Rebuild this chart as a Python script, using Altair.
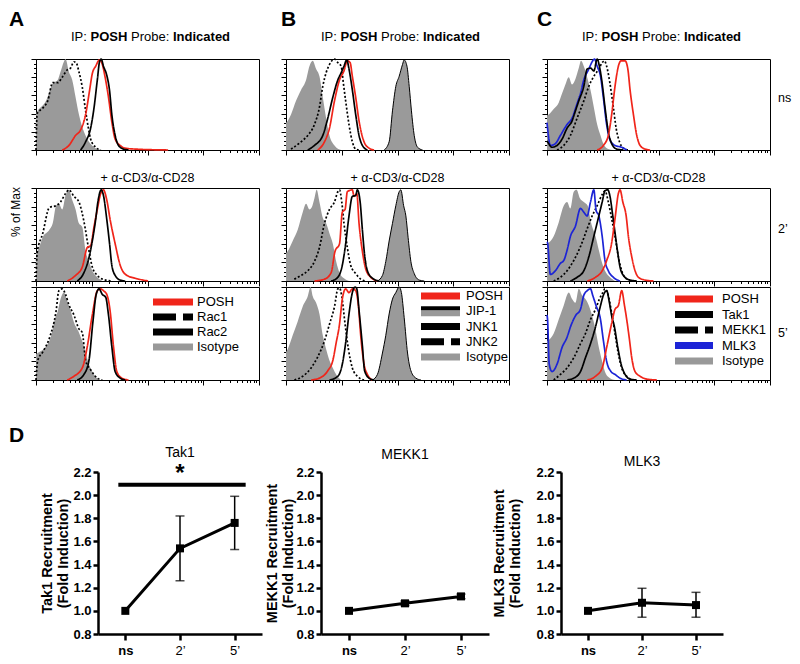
import math
import altair as alt
import pandas as pd

FONT = "Liberation Sans"
RED = "#f0251a"
BLUE = "#1c24d6"
GRAY = "#9a9a9a"
SWATCH_GRAY = "#999999"
DOTTED = [2, 2]
SOLID = [1, 0]
SWATCH_DASH = [23, 7]

# ---------------- histogram data: (log10 decade, % of max) ----------------
# Panel A (Rac1 / Rac2)
A_NS_ISOTYPE = [(0.0, 40), (0.03, 43), (0.18, 54), (0.30, 73), (0.39, 77), (0.44, 86), (0.50, 97), (0.53, 100), (0.59, 86), (0.65, 77), (0.71, 58), (0.77, 39), (0.86, 20), (0.95, 9), (1.07, 2), (1.19, 0)]
A_NS_RAC1 = [(0.0, 0), (0.02, 40), (0.12, 46), (0.21, 54), (0.30, 74), (0.39, 74), (0.47, 80), (0.56, 88), (0.62, 90), (0.68, 97), (0.72, 96), (0.77, 86), (0.83, 69), (0.89, 43), (0.94, 24), (0.98, 12), (1.07, 3), (1.16, 0)]
A_NS_POSH = [(0.47, 0), (0.59, 5), (0.71, 16), (0.80, 22), (0.89, 39), (0.96, 65), (1.01, 84), (1.07, 92), (1.14, 99), (1.19, 94), (1.24, 80), (1.30, 58), (1.36, 31), (1.42, 12), (1.51, 5), (1.60, 2), (1.78, 1), (2.37, 0)]
A_NS_RAC2 = [(0.80, 0), (0.89, 9), (0.98, 24), (1.04, 46), (1.10, 77), (1.14, 97), (1.17, 100), (1.21, 92), (1.27, 82), (1.32, 65), (1.36, 39), (1.42, 16), (1.48, 5), (1.57, 1), (1.66, 0)]

A_2_ISOTYPE = [(0.0, 30), (0.03, 32), (0.12, 47), (0.24, 55), (0.30, 62), (0.36, 81), (0.41, 83), (0.47, 77), (0.53, 92), (0.59, 98), (0.65, 87), (0.71, 77), (0.77, 62), (0.83, 58), (0.89, 32), (0.95, 21), (1.01, 11), (1.10, 4), (1.19, 0)]
A_2_RAC1 = [(0.0, 0), (0.02, 30), (0.12, 51), (0.24, 79), (0.36, 81), (0.44, 85), (0.53, 94), (0.59, 98), (0.68, 91), (0.77, 85), (0.86, 64), (0.94, 36), (1.01, 15), (1.10, 6), (1.19, 2), (1.36, 0)]
A_2_POSH = [(0.56, 0), (0.71, 6), (0.83, 15), (0.92, 36), (0.98, 38), (1.04, 58), (1.10, 77), (1.16, 94), (1.21, 98), (1.27, 87), (1.33, 66), (1.42, 40), (1.51, 17), (1.63, 6), (1.78, 3), (2.01, 0)]
A_2_RAC2 = [(0.74, 0), (0.86, 9), (0.95, 25), (1.01, 43), (1.07, 66), (1.11, 85), (1.17, 98), (1.21, 92), (1.27, 66), (1.32, 40), (1.36, 17), (1.42, 6), (1.51, 1), (1.60, 0)]

A_5_ISOTYPE = [(0.0, 28), (0.06, 30), (0.18, 36), (0.27, 47), (0.33, 64), (0.39, 74), (0.44, 87), (0.50, 94), (0.56, 85), (0.62, 75), (0.68, 62), (0.77, 51), (0.86, 36), (0.95, 17), (1.04, 6), (1.13, 0)]
A_5_RAC1 = [(0.0, 0), (0.03, 21), (0.12, 30), (0.24, 45), (0.36, 74), (0.41, 96), (0.47, 98), (0.53, 92), (0.59, 81), (0.68, 70), (0.77, 55), (0.83, 51), (0.89, 21), (0.98, 11), (1.10, 2), (1.19, 0)]
A_5_POSH = [(0.56, 0), (0.68, 4), (0.83, 13), (0.92, 36), (1.01, 70), (1.10, 96), (1.16, 98), (1.21, 96), (1.27, 92), (1.33, 74), (1.39, 36), (1.45, 9), (1.54, 2), (1.66, 0)]
A_5_RAC2 = [(0.74, 0), (0.86, 6), (0.95, 21), (1.02, 62), (1.08, 92), (1.13, 98), (1.19, 92), (1.25, 89), (1.30, 70), (1.36, 36), (1.42, 9), (1.51, 2), (1.60, 0)]

# Panel B (JIP-1 / JNK1 / JNK2)
B_NS_ISOTYPE = [(0.0, 30), (0.03, 32), (0.09, 39), (0.18, 54), (0.27, 66), (0.36, 77), (0.42, 92), (0.48, 98), (0.54, 89), (0.60, 81), (0.66, 58), (0.72, 35), (0.78, 16), (0.87, 5), (0.99, 0)]
B_NS_JIP1 = [(1.76, 0), (1.85, 9), (1.91, 43), (1.97, 70), (2.03, 81), (2.09, 94), (2.12, 99), (2.17, 92), (2.21, 70), (2.25, 43), (2.30, 16), (2.36, 3), (2.45, 0)]
B_NS_JNK2 = [(0.09, 1), (0.27, 9), (0.39, 16), (0.51, 28), (0.60, 47), (0.66, 70), (0.72, 85), (0.78, 94), (0.87, 100), (0.93, 96), (0.99, 92), (1.03, 73), (1.07, 54), (1.13, 28), (1.19, 9), (1.25, 1), (1.31, 0)]
B_NS_POSH = [(0.57, 0), (0.69, 9), (0.78, 24), (0.87, 54), (0.96, 77), (1.04, 87), (1.10, 98), (1.15, 96), (1.19, 81), (1.25, 58), (1.31, 32), (1.40, 9), (1.49, 2), (1.58, 0)]
B_NS_JNK1 = [(0.39, 0), (0.51, 5), (0.66, 16), (0.75, 35), (0.84, 58), (0.93, 77), (0.99, 85), (1.04, 92), (1.09, 99), (1.13, 89), (1.19, 66), (1.25, 39), (1.31, 16), (1.37, 5), (1.46, 0)]

B_2_ISOTYPE = [(0.0, 30), (0.03, 32), (0.12, 43), (0.21, 55), (0.30, 74), (0.36, 83), (0.42, 77), (0.46, 79), (0.51, 89), (0.55, 98), (0.60, 85), (0.66, 68), (0.72, 62), (0.78, 51), (0.84, 40), (0.90, 21), (0.96, 9), (1.04, 3), (1.13, 0)]
B_2_JIP1 = [(1.64, 0), (1.73, 6), (1.79, 21), (1.85, 43), (1.91, 62), (1.97, 81), (2.03, 96), (2.06, 98), (2.11, 81), (2.15, 70), (2.19, 47), (2.24, 21), (2.30, 8), (2.39, 1), (2.48, 0)]
B_2_JNK2 = [(0.15, 2), (0.27, 6), (0.39, 11), (0.51, 21), (0.60, 36), (0.69, 62), (0.78, 77), (0.87, 85), (0.93, 96), (0.96, 98), (1.00, 85), (1.04, 62), (1.10, 36), (1.16, 17), (1.25, 8), (1.34, 2), (1.43, 0)]
B_2_POSH = [(0.51, 0), (0.69, 2), (0.81, 9), (0.88, 32), (0.96, 40), (1.01, 74), (1.06, 77), (1.10, 96), (1.19, 98), (1.22, 91), (1.27, 94), (1.31, 62), (1.37, 32), (1.43, 13), (1.52, 4), (1.64, 0)]
B_2_JNK1 = [(0.81, 0), (0.93, 4), (1.01, 17), (1.07, 40), (1.13, 70), (1.19, 91), (1.25, 92), (1.28, 98), (1.33, 85), (1.37, 55), (1.41, 28), (1.46, 11), (1.55, 3), (1.67, 0)]

B_5_ISOTYPE = [(0.0, 30), (0.03, 33), (0.12, 48), (0.21, 63), (0.30, 79), (0.39, 90), (0.44, 100), (0.48, 90), (0.54, 83), (0.60, 71), (0.66, 48), (0.72, 33), (0.78, 21), (0.84, 13), (0.90, 6), (0.99, 0)]
B_5_JIP1 = [(1.55, 0), (1.64, 6), (1.73, 29), (1.79, 48), (1.85, 71), (1.91, 87), (1.97, 94), (2.03, 100), (2.07, 94), (2.12, 67), (2.18, 29), (2.24, 10), (2.33, 2), (2.42, 0)]
B_5_JNK2 = [(0.15, 0), (0.30, 4), (0.45, 13), (0.57, 25), (0.69, 42), (0.78, 60), (0.87, 79), (0.93, 98), (0.96, 99), (1.00, 90), (1.06, 60), (1.12, 33), (1.19, 13), (1.28, 4), (1.40, 0)]
B_5_POSH = [(0.45, 0), (0.60, 2), (0.75, 10), (0.84, 21), (0.90, 40), (0.96, 60), (1.01, 87), (1.07, 98), (1.13, 94), (1.19, 98), (1.25, 96), (1.30, 79), (1.34, 48), (1.40, 17), (1.46, 6), (1.55, 0)]
B_5_JNK1 = [(0.78, 0), (0.93, 4), (1.01, 17), (1.07, 40), (1.13, 71), (1.19, 94), (1.24, 100), (1.27, 98), (1.31, 75), (1.37, 37), (1.41, 10), (1.49, 2), (1.58, 0)]

# Panel C (Tak1 / MEKK1 / MLK3)
C_NS_ISOTYPE = [(0.0, 38), (0.03, 39), (0.12, 45), (0.21, 52), (0.27, 62), (0.33, 72), (0.39, 80), (0.45, 72), (0.51, 78), (0.57, 90), (0.61, 98), (0.66, 92), (0.72, 80), (0.78, 66), (0.84, 47), (0.90, 28), (0.96, 16), (1.01, 7), (1.10, 1), (1.19, 0)]
C_NS_MEKK1 = [(0.18, 0), (0.30, 5), (0.42, 16), (0.54, 35), (0.66, 54), (0.75, 70), (0.84, 81), (0.93, 89), (0.99, 96), (1.03, 98), (1.07, 92), (1.13, 73), (1.19, 47), (1.24, 24), (1.30, 9), (1.37, 2), (1.46, 0)]
C_NS_MLK3 = [(0.0, 30), (0.01, 24), (0.06, 5), (0.15, 7), (0.24, 16), (0.36, 28), (0.45, 35), (0.54, 51), (0.60, 62), (0.66, 77), (0.75, 89), (0.81, 97), (0.85, 100), (0.90, 92), (0.96, 81), (1.01, 58), (1.07, 28), (1.13, 11), (1.22, 5), (1.34, 3), (1.43, 0)]
C_NS_TAK1 = [(0.0, 10), (0.03, 7), (0.09, 3), (0.18, 5), (0.27, 12), (0.36, 24), (0.45, 32), (0.51, 43), (0.57, 54), (0.66, 70), (0.72, 89), (0.78, 90), (0.84, 87), (0.90, 100), (0.94, 92), (0.99, 73), (1.04, 47), (1.10, 20), (1.16, 7), (1.25, 1), (1.37, 0)]
C_NS_POSH = [(0.90, 0), (1.01, 5), (1.10, 16), (1.16, 39), (1.22, 70), (1.28, 92), (1.33, 98), (1.40, 98), (1.45, 89), (1.49, 66), (1.55, 39), (1.61, 16), (1.67, 5), (1.76, 1), (1.85, 0)]

C_2_ISOTYPE = [(0.0, 40), (0.03, 41), (0.12, 48), (0.21, 63), (0.30, 81), (0.36, 85), (0.42, 78), (0.48, 96), (0.53, 98), (0.59, 89), (0.66, 85), (0.73, 81), (0.79, 63), (0.87, 48), (0.93, 33), (0.99, 19), (1.04, 11), (1.13, 4), (1.22, 0)]
C_2_MEKK1 = [(0.12, 0), (0.24, 4), (0.36, 11), (0.48, 22), (0.60, 37), (0.72, 56), (0.81, 70), (0.90, 81), (0.99, 93), (1.04, 97), (1.10, 85), (1.16, 67), (1.22, 48), (1.28, 26), (1.34, 11), (1.43, 2), (1.52, 0)]
C_2_MLK3 = [(0.0, 42), (0.01, 41), (0.06, 7), (0.15, 11), (0.24, 19), (0.30, 22), (0.36, 33), (0.42, 48), (0.51, 59), (0.60, 78), (0.66, 74), (0.72, 70), (0.78, 85), (0.84, 98), (0.88, 76), (0.93, 70), (0.99, 48), (1.04, 22), (1.10, 11), (1.19, 4), (1.31, 0)]
C_2_TAK1 = [(0.42, 0), (0.54, 4), (0.66, 11), (0.75, 26), (0.84, 48), (0.93, 70), (0.99, 85), (1.04, 97), (1.09, 98), (1.13, 91), (1.18, 70), (1.22, 52), (1.27, 30), (1.31, 15), (1.37, 6), (1.49, 1), (1.61, 0)]
C_2_POSH = [(0.72, 0), (0.87, 4), (0.99, 11), (1.07, 22), (1.16, 41), (1.22, 67), (1.28, 94), (1.31, 98), (1.36, 85), (1.42, 70), (1.46, 48), (1.52, 26), (1.58, 11), (1.64, 4), (1.76, 1), (1.91, 0)]

C_5_ISOTYPE = [(0.0, 42), (0.03, 43), (0.12, 50), (0.21, 65), (0.30, 80), (0.39, 94), (0.45, 87), (0.51, 83), (0.57, 98), (0.63, 91), (0.69, 87), (0.75, 80), (0.81, 69), (0.87, 54), (0.93, 35), (0.99, 20), (1.04, 9), (1.13, 2), (1.22, 0)]
C_5_MEKK1 = [(0.12, 0), (0.24, 6), (0.36, 13), (0.48, 24), (0.60, 39), (0.69, 50), (0.78, 65), (0.87, 76), (0.94, 87), (1.00, 94), (1.04, 98), (1.10, 91), (1.16, 72), (1.22, 50), (1.28, 28), (1.34, 13), (1.43, 4), (1.52, 0)]
C_5_MLK3 = [(0.0, 70), (0.01, 65), (0.04, 17), (0.09, 9), (0.18, 17), (0.27, 35), (0.36, 46), (0.42, 57), (0.51, 69), (0.60, 76), (0.66, 91), (0.72, 96), (0.78, 98), (0.82, 91), (0.88, 80), (0.96, 65), (1.01, 43), (1.07, 20), (1.15, 9), (1.22, 6), (1.31, 2), (1.43, 0)]
C_5_TAK1 = [(0.36, 0), (0.48, 2), (0.60, 9), (0.69, 24), (0.78, 39), (0.87, 57), (0.96, 80), (1.01, 91), (1.07, 96), (1.12, 83), (1.16, 69), (1.21, 57), (1.27, 35), (1.33, 17), (1.40, 6), (1.49, 1), (1.61, 0)]
C_5_POSH = [(0.72, 0), (0.87, 4), (0.99, 13), (1.07, 35), (1.16, 61), (1.22, 76), (1.28, 80), (1.34, 96), (1.39, 80), (1.43, 65), (1.48, 43), (1.52, 24), (1.58, 9), (1.67, 4), (1.79, 1), (1.97, 0)]

# ---------------- panel D data ----------------
TIMEPOINTS = ["ns", "2’", "5’"]
TAK1_MEAN = [1.00, 1.54, 1.76]
TAK1_LO = [1.00, 1.26, 1.53]
TAK1_HI = [1.00, 1.82, 1.99]
MEKK1_MEAN = [1.00, 1.065, 1.125]
MEKK1_LO = [1.00, 1.045, 1.105]
MEKK1_HI = [1.00, 1.085, 1.145]
MLK3_MEAN = [1.00, 1.07, 1.05]
MLK3_LO = [1.00, 0.945, 0.945]
MLK3_HI = [1.00, 1.195, 1.16]
TAK1_SIG_LEVEL = 2.09
D_Y_TICKS = [0.8, 1.0, 1.2, 1.4, 1.6, 1.8, 2.0, 2.2]

# ---------------- layout constants ----------------
PANEL_W = 223
H_TOP, H_MID, H_BOT = 91, 93, 93
X_TICKS = [round(d + math.log10(k), 4) for d in range(4) for k in range(1, 10)] + [4.0]
Y_TICKS = list(range(0, 101, 5))
INDEP = dict(color="independent", strokeDash="independent")

X_AXIS = alt.Axis(values=X_TICKS, labels=False, title=None, grid=False,
                  domainColor="black", tickColor="black", tickWidth=1, domainWidth=1,
                  tickSize={"condition": {"test": "abs(datum.value - round(datum.value)) < 0.001", "value": 5}, "value": 2.5})
Y_AXIS = alt.Axis(values=Y_TICKS, labels=False, title=None, grid=False,
                  domainColor="black", tickColor="black", tickWidth=1, domainWidth=1,
                  tickSize={"condition": {"test": "datum.value % 20 === 0", "value": 5}, "value": 2.5})


def to_df(items):
    rows = []
    for name, pairs in items:
        for x, y in pairs:
            rows.append({"x": x, "y": y, "s": name})
    return pd.DataFrame(rows)


def text_layer(s, x, y, size=13, weight="normal", align="left", baseline="alphabetic", angle=0):
    return alt.Chart(pd.DataFrame({"t": [s]})).mark_text(
        align=align, baseline=baseline, fontSize=size, fontWeight=weight, angle=angle, color="black"
    ).encode(x=alt.value(x), y=alt.value(y), text="t:N")


def invisible_edge(x):
    # transparent rule that only widens a panel's layout bounds
    return alt.Chart(pd.DataFrame({"t": [0]})).mark_rule(opacity=0).encode(
        x=alt.value(x), y=alt.value(10), y2=alt.value(20))


def legend_block(labels, colors, dashes, x0, x1, xt, y_range, jip=None):
    ysc = alt.Scale(type="point", domain=labels, range=y_range, padding=0)
    yenc = alt.Y("lab:N", scale=ysc, axis=None)
    plain = [(l, c, d) for l, c, d in zip(labels, colors, dashes) if l != jip]
    pl = [p[0] for p in plain]
    parts = [alt.Chart(pd.DataFrame({"lab": pl})).mark_rule(strokeWidth=7).encode(
        x=alt.value(x0), x2=alt.value(x1), y=yenc,
        color=alt.Color("lab:N", scale=alt.Scale(domain=pl, range=[p[1] for p in plain]), legend=None),
        strokeDash=alt.StrokeDash("lab:N", scale=alt.Scale(domain=pl, range=[p[2] for p in plain]), legend=None),
    )]
    if jip:
        jdf = pd.DataFrame({"lab": [jip]})
        parts.append(alt.Chart(jdf).mark_rule(strokeWidth=6, color=SWATCH_GRAY, yOffset=2).encode(
            x=alt.value(x0), x2=alt.value(x1), y=yenc))
        parts.append(alt.Chart(jdf).mark_rule(strokeWidth=4, color="black", yOffset=-3).encode(
            x=alt.value(x0), x2=alt.value(x1), y=yenc))
    parts.append(alt.Chart(pd.DataFrame({"lab": labels})).mark_text(
        align="left", baseline="middle", fontSize=13, color="black").encode(
        x=alt.value(xt), y=yenc, text="lab:N"))
    return alt.layer(*parts)


def hist_panel(areas, outlines, lines, height, extras, legend=None):
    xenc = alt.X("x:Q", scale=alt.Scale(domain=[0, 4], nice=False, zero=False), axis=X_AXIS)
    yenc = alt.Y("y:Q", stack=None, scale=alt.Scale(domain=[0, 100], nice=False), axis=Y_AXIS)
    layers = [alt.Chart(to_df(areas)).mark_area(color=GRAY, interpolate="monotone", opacity=1).encode(
        x=xenc, y=yenc, detail="s:N")]
    if outlines:
        layers.append(alt.Chart(to_df(outlines)).mark_line(color="black", strokeWidth=1, interpolate="monotone").encode(
            x=xenc, y=yenc, detail="s:N"))
    names = [l[0] for l in lines]
    layers.append(alt.Chart(to_df([(l[0], l[1]) for l in lines])).mark_line(strokeWidth=1.7, interpolate="monotone").encode(
        x=xenc, y=yenc,
        color=alt.Color("s:N", scale=alt.Scale(domain=names, range=[l[2] for l in lines]), legend=None),
        strokeDash=alt.StrokeDash("s:N", scale=alt.Scale(domain=names, range=[l[3] for l in lines]), legend=None),
    ))
    hist = alt.layer(*layers)
    if legend is not None:
        chart = alt.layer(hist, legend, *extras).resolve_scale(y="independent", **INDEP)
    else:
        chart = alt.layer(hist, *extras)
    return chart.properties(width=PANEL_W, height=height, view=alt.ViewBackground(stroke="black", strokeWidth=1))


def title_parts(letter, letter_dx):
    return [
        text_layer(letter, letter_dx, -33, size=21, weight="bold"),
        text_layer("IP:", 35, -18),
        text_layer("POSH", 54.5, -18, weight="bold"),
        text_layer("Probe:", 95, -18),
        text_layer("Indicated", 137, -18, weight="bold"),
    ]


def stim_title():
    return text_layer("+ α-CD3/α-CD28", PANEL_W / 2, -6, size=12.5, align="center")


# ---------------- column A ----------------
a_lines_ns = [("Rac1", A_NS_RAC1, "black", DOTTED), ("POSH", A_NS_POSH, RED, SOLID), ("Rac2", A_NS_RAC2, "black", SOLID)]
a_lines_2 = [("Rac1", A_2_RAC1, "black", DOTTED), ("POSH", A_2_POSH, RED, SOLID), ("Rac2", A_2_RAC2, "black", SOLID)]
a_lines_5 = [("Rac1", A_5_RAC1, "black", DOTTED), ("POSH", A_5_POSH, RED, SOLID), ("Rac2", A_5_RAC2, "black", SOLID)]

A_LEGEND = ["POSH", "Rac1", "Rac2", "Isotype"]
a_top = hist_panel([("Isotype", A_NS_ISOTYPE)], [], a_lines_ns, H_TOP, title_parts("A", -27))
a_mid = hist_panel([("Isotype", A_2_ISOTYPE)], [], a_lines_2, H_MID,
                   [stim_title(), text_layer("% of Max", -20, 24, size=12, align="center", baseline="middle", angle=270)])
a_bot = hist_panel([("Isotype", A_5_ISOTYPE)], [], a_lines_5, H_BOT, [],
                   legend=legend_block(A_LEGEND, [RED, "black", "black", SWATCH_GRAY],
                                       [SOLID, SWATCH_DASH, SOLID, SOLID], 117, 157, 161, [15, 60]))

# ---------------- column B ----------------
b_lines_ns = [("JNK2", B_NS_JNK2, "black", DOTTED), ("POSH", B_NS_POSH, RED, SOLID), ("JNK1", B_NS_JNK1, "black", SOLID)]
b_lines_2 = [("JNK2", B_2_JNK2, "black", DOTTED), ("POSH", B_2_POSH, RED, SOLID), ("JNK1", B_2_JNK1, "black", SOLID)]
b_lines_5 = [("JNK2", B_5_JNK2, "black", DOTTED), ("POSH", B_5_POSH, RED, SOLID), ("JNK1", B_5_JNK1, "black", SOLID)]

B_LEGEND = ["POSH", "JIP-1", "JNK1", "JNK2", "Isotype"]
b_top = hist_panel([("Isotype", B_NS_ISOTYPE), ("JIP-1", B_NS_JIP1)], [("JIP-1", B_NS_JIP1)], b_lines_ns, H_TOP,
                   title_parts("B", -5) + [invisible_edge(PANEL_W + 6)])
b_mid = hist_panel([("Isotype", B_2_ISOTYPE), ("JIP-1", B_2_JIP1)], [("JIP-1", B_2_JIP1)], b_lines_2, H_MID,
                   [stim_title()])
b_bot = hist_panel([("Isotype", B_5_ISOTYPE), ("JIP-1", B_5_JIP1)], [("JIP-1", B_5_JIP1)], b_lines_5, H_BOT, [],
                   legend=legend_block(B_LEGEND, [RED, "black", "black", "black", SWATCH_GRAY],
                                       [SOLID, SOLID, SOLID, SWATCH_DASH, SOLID], 135, 174, 180, [9, 70], jip="JIP-1"))

# ---------------- column C ----------------
c_lines_ns = [("MEKK1", C_NS_MEKK1, "black", DOTTED), ("MLK3", C_NS_MLK3, BLUE, SOLID), ("Tak1", C_NS_TAK1, "black", SOLID), ("POSH", C_NS_POSH, RED, SOLID)]
c_lines_2 = [("MEKK1", C_2_MEKK1, "black", DOTTED), ("MLK3", C_2_MLK3, BLUE, SOLID), ("Tak1", C_2_TAK1, "black", SOLID), ("POSH", C_2_POSH, RED, SOLID)]
c_lines_5 = [("MEKK1", C_5_MEKK1, "black", DOTTED), ("MLK3", C_5_MLK3, BLUE, SOLID), ("Tak1", C_5_TAK1, "black", SOLID), ("POSH", C_5_POSH, RED, SOLID)]

C_LEGEND = ["POSH", "Tak1", "MEKK1", "MLK3", "Isotype"]
c_top = hist_panel([("Isotype", C_NS_ISOTYPE)], [], c_lines_ns, H_TOP,
                   title_parts("C", -10) + [text_layer("ns", PANEL_W + 8, 39, size=12.5, baseline="middle")])
c_mid = hist_panel([("Isotype", C_2_ISOTYPE)], [], c_lines_2, H_MID,
                   [stim_title(), text_layer("2’", PANEL_W + 8, 41, size=12.5, baseline="middle")])
c_bot = hist_panel([("Isotype", C_5_ISOTYPE)], [], c_lines_5, H_BOT,
                   [text_layer("5’", PANEL_W + 8, 46, size=12.5, baseline="middle")],
                   legend=legend_block(C_LEGEND, [RED, "black", "black", BLUE, SWATCH_GRAY],
                                       [SOLID, SOLID, SWATCH_DASH, SOLID, SOLID], 128, 166, 175, [12, 74]))


def column(top, mid, bot):
    inner = alt.vconcat(mid, bot, spacing=-6).resolve_scale(**INDEP)
    return alt.vconcat(top, inner, spacing=15).resolve_scale(**INDEP)


top_row = alt.hconcat(column(a_top, a_mid, a_bot), column(b_top, b_mid, b_bot), column(c_top, c_mid, c_bot),
                      spacing=20).resolve_scale(**INDEP)

# ---------------- panel D ----------------
D_H = 162
NS_BOLD = {"condition": {"test": "datum.value === 'ns'", "value": "bold"}, "value": "normal"}


def d_chart(name, mean, lo, hi, width, title_y, title_pad, sig_level=None):
    df = pd.DataFrame({"t": TIMEPOINTS, "m": mean, "lo": lo, "hi": hi})
    xsc = alt.Scale(type="point", domain=TIMEPOINTS, padding=0.5)
    xax = alt.Axis(title=None, labelAngle=0, grid=False, domainWidth=2.5, tickWidth=2.5, tickSize=6,
                   labelFontSize=13, labelPadding=4, labelFontWeight=NS_BOLD,
                   domainColor="black", tickColor="black", labelColor="black")
    ysc = alt.Scale(domain=[0.8, 2.2], nice=False, zero=False)
    yax = alt.Axis(values=D_Y_TICKS, format=".1f", title=[f"{name} Recruitment", "(Fold Induction)"],
                   titleFontSize=14.5, titleFontWeight="bold", titleLineHeight=16, titlePadding=title_pad,
                   labelFontSize=13, labelFontWeight="bold", labelPadding=2, tickSize=5, tickWidth=2.5,
                   domainWidth=2.5, grid=False, domainColor="black", tickColor="black",
                   labelColor="black", titleColor="black")

    def X(f):
        return alt.X(f, scale=xsc, axis=xax)

    def Y(f):
        return alt.Y(f, scale=ysc, axis=yax)

    base = alt.Chart(df)
    errbase = base.transform_filter("datum.hi > datum.lo")
    layers = [
        errbase.mark_rule(color="black", strokeWidth=1.5).encode(x=X("t:N"), y=Y("lo:Q"), y2="hi:Q"),
        errbase.mark_tick(color="black", size=9, thickness=1.5).encode(x=X("t:N"), y=Y("lo:Q")),
        errbase.mark_tick(color="black", size=9, thickness=1.5).encode(x=X("t:N"), y=Y("hi:Q")),
        base.mark_line(color="black", strokeWidth=3).encode(x=X("t:N"), y=Y("m:Q")),
        base.mark_square(size=64, color="black", opacity=1).encode(x=X("t:N"), y=Y("m:Q")),
        text_layer(name, width / 2, title_y, size=14, align="center"),
    ]
    if sig_level is not None:
        sig_df = pd.DataFrame({"a": [TIMEPOINTS[0]], "b": [TIMEPOINTS[2]], "mid": [TIMEPOINTS[1]], "lvl": [sig_level]})
        layers.append(alt.Chart(sig_df).mark_rule(color="black", strokeWidth=4, xOffset=-7, x2Offset=11).encode(
            x=X("a:N"), x2="b:N", y=Y("lvl:Q")))
        layers.append(alt.Chart(sig_df).mark_text(text="*", fontSize=24, fontWeight="bold", baseline="alphabetic",
                                                  dy=-4, color="black").encode(x=X("mid:N"), y=Y("lvl:Q")))
    return alt.layer(*layers).properties(width=width, height=D_H,
                                         view=alt.ViewBackground(stroke="transparent"))


d_spacer = alt.layer(
    text_layer("D", -27, -30, size=21, weight="bold")
).properties(width=1, height=D_H, view=alt.ViewBackground(stroke="transparent"))
d1 = d_chart("Tak1", TAK1_MEAN, TAK1_LO, TAK1_HI, 164, -15, 2, sig_level=TAK1_SIG_LEVEL)
d2 = d_chart("MEKK1", MEKK1_MEAN, MEKK1_LO, MEKK1_HI, 168, -13, 0)
d3 = d_chart("MLK3", MLK3_MEAN, MLK3_LO, MLK3_HI, 162, -6, 13)

d_row = alt.hconcat(d_spacer, d1, d2, d3, spacing=1)

chart = alt.vconcat(top_row, d_row, spacing=38, padding=0).resolve_scale(**INDEP).configure(
    font=FONT).configure_view(stroke="black")

chart.save("out.html", embed_options={"renderer": "svg", "actions": False})
